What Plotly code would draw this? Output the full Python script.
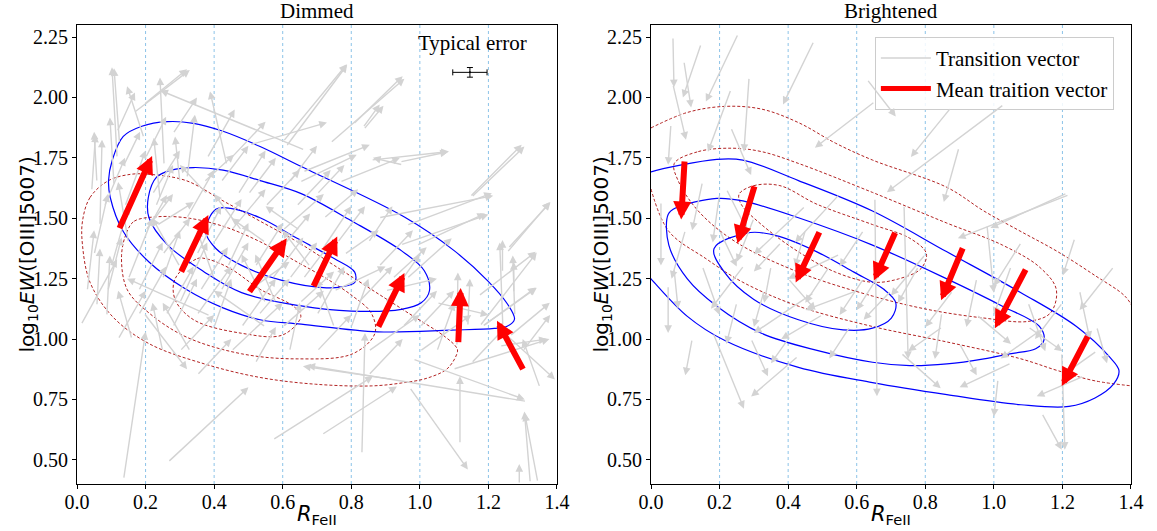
import plotly.graph_objects as go

# ---------------- data ----------------
x_ticks = [0.0, 0.2, 0.4, 0.6, 0.8, 1.0, 1.2, 1.4]
y_ticks = [0.50, 0.75, 1.00, 1.25, 1.50, 1.75, 2.00, 2.25]
grid_x = [0.2, 0.4, 0.6, 0.8, 1.0, 1.2]
panel_titles = ["Dimmed", "Brightened"]

# Dimmed: individual transition vectors (tail x0,y0 -> head x1,y1)
dim_x0 = [0.664, 0.124, 0.167, 0.61, 0.739, 0.836, 0.858, 1.15, 0.88, 1.257, 0.944, 1.171, 1.182, 1.241, 1.274,
          1.322, 1.311, 0.265, 0.136, 0.012, 0.571, 0.714, 0.831, 1.117, 1.29, 1.344, 1.097, 0.98, 1.242, 1.277,
          1.175, 1.254, 1.146, 0.962, 0.991, 0.942, 1.184, 1.262, 1.233, 1.224, 1.108, 0.962, 1.14, 0.601, 0.805,
          0.834, 0.504, 0.659, 0.65, 0.95, 0.767, 0.921, 0.117, 0.195, 0.254, 0.195, 0.117, 0.437, 0.058, 0.067,
          0.108, 0.321, 0.30, 0.37, 0.137, 0.242, 0.233, 0.213, 0.058, 0.087, 0.388, 0.195, 0.043,
          0.45, 0.52, 0.62, 0.55, 0.40, 0.70, 0.35, 0.65, 0.75, 0.60, 0.30, 0.45, 0.80, 0.85, 0.50, 0.25, 0.38,
          0.70, 0.55, 0.90, 0.95, 0.20, 0.15, 0.28, 0.42, 0.58, 0.72, 0.33, 0.62, 0.48, 0.25, 0.35, 0.85, 1.00,
          0.90, 1.05, 0.97, 0.03, 0.16,
          0.10, 0.18, 0.22, 0.28, 0.32, 0.40, 0.45, 0.50, 0.55, 0.60, 0.65, 0.68, 0.72, 0.78, 0.82, 0.88, 0.35,
          0.40, 0.25, 0.15, 0.08, 0.30, 0.48, 0.58, 0.75, 0.42, 0.62, 0.20, 0.12, 0.30, 0.52, 0.70, 0.85, 1.00,
          1.05, 1.15, 1.30, 1.35, 0.55,
          0.05, 0.14, 0.26, 0.36, 0.44, 0.53, 0.66, 0.76, 0.92, 0.23, 0.47, 0.57, 0.64, 0.38, 0.18, 0.09]
dim_y0 = [1.783, 1.811, 1.938, 1.797, 1.811, 1.867, 1.741, 1.586, 1.502, 1.375, 1.39, 1.178, 1.052, 1.277, 1.192,
          0.405, 0.742, 0.49, 0.42, 1.06, 0.583, 0.604, 0.525, 0.567, 0.40, 0.408, 0.875, 0.917, 1.054, 1.096,
          1.054, 1.358, 1.588, 1.471, 1.388, 1.733, 1.054, 1.012, 0.971, 1.054, 0.971, 1.25, 1.054, 1.817, 1.888,
          1.875, 1.804, 1.692, 1.65, 1.721, 1.65, 0.833, 1.75, 1.971, 1.721, 1.833, 1.858, 1.721, 1.65, 1.471,
          1.638, 1.667, 1.65, 1.65, 1.721, 1.583, 1.471, 1.471, 1.138, 1.096, 1.096, 1.108, 1.614,
          1.45, 1.30, 1.25, 1.15, 1.05, 1.10, 1.35, 1.45, 1.20, 1.05, 1.15, 0.95, 1.05, 1.40, 1.60, 1.25, 1.60,
          1.60, 1.05, 1.15, 1.05, 1.45, 1.25, 1.05, 1.20, 1.35, 1.38, 0.95, 0.95, 1.45, 0.95, 0.85, 0.95, 0.95,
          1.20, 1.15, 0.80, 1.20, 1.00,
          1.30, 1.20, 1.60, 1.85, 1.50, 1.40, 1.75, 1.20, 1.55, 1.45, 1.15, 1.30, 1.50, 1.35, 1.15, 1.30, 1.10,
          1.25, 1.35, 1.40, 1.55, 1.30, 1.05, 1.15, 1.05, 1.65, 1.65, 1.75, 1.00, 0.95, 0.90, 0.95, 0.85, 1.05,
          0.95, 0.90, 0.95, 0.80, 1.40,
          1.35, 1.55, 1.10, 1.20, 1.30, 1.10, 1.25, 1.40, 1.25, 1.55, 1.60, 1.25, 1.55, 1.75, 1.10, 1.20]
dim_x1 = [0.243, 0.108, 0.329, 0.788, 0.955, 0.894, 1.085, 1.305, 1.214, 1.381, 1.2, 1.338, 1.338, 1.241, 1.274,
          1.305, 0.672, 0.50, 0.20, 0.117, 0.863, 0.933, 0.84, 1.117, 1.29, 1.306, 1.378, 1.306, 1.233, 1.271,
          1.341, 1.379, 1.297, 1.21, 1.19, 1.082, 1.341, 1.379, 1.37, 1.394, 1.111, 1.093, 1.146, 0.787, 0.95,
          0.883, 0.729, 0.854, 0.816, 0.863, 0.942, 0.659, 0.102, 0.321, 0.242, 0.146, 0.169, 0.388, 0.05, 0.073,
          0.096, 0.344, 0.286, 0.458, 0.184, 0.224, 0.341, 0.262, 0.067, 0.096, 0.146, 0.321, 0.054,
          0.55, 0.60, 0.70, 0.48, 0.45, 0.78, 0.42, 0.55, 0.90, 0.72, 0.38, 0.60, 0.85, 0.92, 0.58, 0.30, 0.30,
          0.78, 0.40, 1.00, 1.05, 0.28, 0.22, 0.35, 0.50, 0.68, 0.80, 0.25, 0.65, 0.40, 0.22, 0.45, 1.00, 1.15,
          1.05, 1.20, 1.14, 0.05, 0.12,
          0.15, 0.25, 0.30, 0.35, 0.40, 0.48, 0.55, 0.62, 0.65, 0.72, 0.75, 0.60, 0.82, 0.88, 0.92, 0.98, 0.45,
          0.35, 0.33, 0.12, 0.14, 0.22, 0.58, 0.52, 0.70, 0.50, 0.70, 0.26, 0.20, 0.40, 0.58, 0.80, 0.95, 1.10,
          1.10, 1.25, 1.38, 1.30, 0.45,
          0.09, 0.20, 0.34, 0.44, 0.50, 0.62, 0.74, 0.84, 1.02, 0.28, 0.55, 0.66, 0.74, 0.46, 0.26, 0.13]
dim_y1 = [2.029, 2.121, 2.114, 2.135, 2.078, 1.966, 1.776, 1.797, 1.593, 1.566, 1.516, 1.361, 1.213, 1.41, 1.319,
          0.70, 0.89, 0.80, 1.03, 1.33, 0.846, 0.804, 1.025, 0.846, 0.483, 0.692, 1.0, 0.75, 1.40, 1.346,
          1.358, 1.567, 1.804, 1.604, 1.52, 1.775, 1.212, 1.15, 1.0, 0.833, 1.275, 1.417, 1.25, 2.138, 2.088,
          1.971, 1.896, 1.804, 1.763, 1.75, 1.75, 0.887, 2.125, 2.117, 2.083, 2.046, 2.021, 2.025, 1.858, 1.825,
          1.917, 1.929, 1.838, 1.763, 1.858, 1.833, 1.567, 1.596, 1.375, 1.346, 1.25, 0.875, 1.846,
          1.62, 1.48, 1.40, 1.35, 1.25, 1.30, 1.55, 1.55, 1.30, 1.20, 1.40, 1.15, 1.25, 1.55, 1.75, 1.45, 1.72,
          1.72, 1.20, 1.35, 1.20, 1.60, 1.50, 1.25, 1.40, 1.52, 1.55, 1.15, 1.15, 1.60, 1.15, 1.00, 1.10, 1.10,
          1.25, 1.10, 0.46, 1.45, 1.20,
          1.55, 1.40, 1.78, 2.00, 1.70, 1.58, 1.90, 1.32, 1.70, 1.60, 1.28, 1.45, 1.62, 1.45, 1.30, 1.45, 1.30,
          1.45, 1.50, 1.65, 1.75, 1.50, 1.25, 1.35, 1.25, 1.80, 1.80, 1.92, 1.20, 1.10, 1.05, 1.10, 1.00, 1.20,
          1.15, 1.05, 1.10, 1.00, 1.50,
          1.60, 1.78, 1.30, 1.38, 1.48, 1.25, 1.40, 1.55, 1.38, 1.72, 1.78, 1.42, 1.70, 1.95, 1.30, 1.42]

# Dimmed: mean transition vectors
dim_mean_x0 = [0.122, 0.302, 0.500, 0.688, 0.877, 1.112, 1.303]
dim_mean_y0 = [1.453, 1.273, 1.190, 1.213, 1.045, 0.981, 0.869]
dim_mean_x1 = [0.219, 0.383, 0.612, 0.759, 0.955, 1.119, 1.225]
dim_mean_y1 = [1.758, 1.513, 1.417, 1.424, 1.273, 1.211, 1.076]

# Brightened: individual transition vectors
bri_x0 = [0.064, 0.146, 0.096, 0.064, 0.254, 0.475, 0.286, 0.233, 0.233, 0.058, 0.029, 0.067, 0.05, 0.181, 0.429,
          0.292, 0.271, 0.475, 0.63, 0.875, 1.029, 0.653, 0.898, 0.738, 0.653, 0.848, 0.729, 1.213, 1.236, 1.198,
          1.14, 1.262, 0.98, 1.012, 1.219,
          0.55, 0.60, 0.50, 0.35, 0.45, 0.40, 0.58, 0.95, 1.05, 1.10, 0.85, 1.15, 1.25, 1.30, 1.30, 0.90, 1.05,
          0.15, 0.20, 0.10, 0.45, 0.22, 0.33, 0.12, 0.68, 0.80, 1.08, 1.35, 0.55,
          0.20, 0.30, 0.38, 0.52, 0.62, 0.70, 0.78, 0.88, 0.62, 0.40, 0.15, 0.25, 0.95, 1.10, 1.20]
bri_y0 = [2.25, 2.221, 2.15, 2.054, 2.263, 2.233, 2.083, 2.033, 1.875, 1.888, 1.567, 1.292, 1.221, 1.025, 0.929,
          1.0, 1.304, 1.192, 2.075, 1.958, 1.971, 1.983, 1.792, 1.554, 1.583, 1.108, 0.942, 1.604, 1.417, 0.942,
          0.692, 0.846, 1.471, 0.833, 1.597,
          1.35, 1.20, 1.10, 1.30, 1.45, 1.00, 1.05, 1.25, 1.30, 1.15, 1.05, 1.05, 1.20, 1.05, 0.95, 0.98, 0.90,
          1.65, 1.45, 1.45, 1.55, 1.62, 1.20, 1.00, 1.30, 1.35, 1.40, 1.30, 1.60,
          1.60, 1.50, 1.40, 1.30, 1.25, 1.20, 1.30, 1.20, 1.45, 1.25, 1.30, 1.15, 1.10, 1.05, 1.15]
bri_x1 = [0.067, 0.093, 0.117, 0.102, 0.16, 0.385, 0.271, 0.166, 0.292, 0.05, 0.029, 0.079, 0.05, 0.271, 0.292,
          0.341, 0.175, 0.30, 0.714, 0.758, 0.688, 0.478, 0.854, 0.75, 0.659, 0.828, 0.845, 0.99, 1.201, 1.207,
          1.198, 1.125, 1.0, 1.0, 0.895,
          0.40, 0.45, 0.38, 0.33, 0.42, 0.35, 0.52, 0.92, 1.00, 1.15, 0.75, 1.02, 1.28, 1.33, 1.20, 0.95, 0.90,
          0.12, 0.25, 0.06, 0.30, 0.28, 0.30, 0.10, 0.60, 0.70, 1.00, 1.25, 0.42,
          0.18, 0.25, 0.30, 0.45, 0.55, 0.62, 0.72, 0.80, 0.55, 0.48, 0.20, 0.22, 1.05, 1.20, 1.12]
bri_y1 = [2.042, 2.0, 1.958, 1.825, 1.983, 1.971, 1.775, 1.775, 1.679, 1.721, 1.304, 1.125, 1.025, 0.712, 0.762,
          0.846, 1.125, 1.025, 1.921, 1.754, 1.608, 1.792, 1.567, 0.917, 0.763, 0.917, 0.796, 1.46, 1.263, 0.542,
          0.542, 0.763, 1.192, 0.679, 1.417,
          1.25, 1.12, 1.00, 1.15, 1.30, 0.90, 0.92, 1.05, 1.10, 0.95, 0.95, 0.92, 1.00, 0.90, 0.85, 0.85, 0.80,
          1.45, 1.30, 1.25, 1.35, 1.45, 1.05, 0.85, 1.12, 1.18, 1.22, 1.12, 1.40,
          1.40, 1.32, 1.28, 1.15, 1.10, 1.08, 1.15, 1.05, 1.30, 1.12, 1.10, 0.98, 0.98, 0.95, 1.00]

# Brightened: mean transition vectors
bri_mean_x0 = [0.098, 0.303, 0.493, 0.714, 0.911, 1.095, 1.276]
bri_mean_y0 = [1.741, 1.638, 1.448, 1.446, 1.382, 1.294, 1.017]
bri_mean_x1 = [0.088, 0.252, 0.422, 0.650, 0.846, 1.003, 1.198]
bri_mean_y1 = [1.495, 1.396, 1.234, 1.242, 1.161, 1.045, 0.806]

# Density contours
dim_blue_outer_x = [0.092, 0.103, 0.135, 0.189, 0.264, 0.34, 0.426, 0.534, 0.654, 0.955, 1.10, 1.198, 1.256, 1.276,
                    1.256, 1.217, 1.091, 0.878, 0.654, 0.534, 0.426, 0.318, 0.21, 0.135, 0.097, 0.092]
dim_blue_outer_y = [1.656, 1.741, 1.839, 1.881, 1.90, 1.893, 1.86, 1.797, 1.714, 1.505, 1.366, 1.241, 1.144, 1.082,
                    1.054, 1.044, 1.037, 1.03, 1.062, 1.08, 1.129, 1.206, 1.319, 1.445, 1.586, 1.656]
dim_blue_mid_x = [0.208, 0.232, 0.275, 0.34, 0.426, 0.534, 0.654, 0.80, 0.946, 1.013, 1.028, 1.004, 0.946, 0.80,
                  0.654, 0.48, 0.372, 0.264, 0.21, 0.208]
dim_blue_mid_y = [1.586, 1.67, 1.699, 1.71, 1.699, 1.656, 1.602, 1.49, 1.366, 1.283, 1.20, 1.15, 1.123, 1.116,
                  1.137, 1.192, 1.277, 1.39, 1.502, 1.586]
dim_blue_in_x = [0.375, 0.405, 0.448, 0.534, 0.642, 0.75, 0.81, 0.81, 0.772, 0.718, 0.60, 0.48, 0.405, 0.375]
dim_blue_in_y = [1.445, 1.537, 1.541, 1.502, 1.417, 1.333, 1.277, 1.234, 1.216, 1.213, 1.242, 1.305, 1.375, 1.445]
dim_red_outer_x = [0.016, 0.038, 0.092, 0.157, 0.21, 0.318, 0.426, 0.534, 0.642, 0.75, 0.858, 0.966, 1.074, 1.106,
                   1.11, 1.082, 1.023, 0.946, 0.858, 0.696, 0.534, 0.372, 0.21, 0.103, 0.038, 0.016, 0.016]
dim_red_outer_y = [1.488, 1.586, 1.656, 1.682, 1.682, 1.656, 1.572, 1.488, 1.403, 1.305, 1.206, 1.108, 1.009, 0.967,
                   0.95, 0.88, 0.839, 0.818, 0.806, 0.813, 0.841, 0.897, 0.981, 1.094, 1.235, 1.389, 1.488]
dim_red_mid_x = [0.146, 0.167, 0.232, 0.318, 0.426, 0.534, 0.642, 0.729, 0.804, 0.858, 0.869, 0.804, 0.642, 0.48,
                 0.318, 0.21, 0.146, 0.13, 0.146]
dim_red_mid_y = [1.445, 1.488, 1.506, 1.502, 1.467, 1.403, 1.319, 1.249, 1.178, 1.108, 1.024, 0.939, 0.918, 0.939,
                 1.009, 1.108, 1.206, 1.347, 1.445]
dim_red_in_x = [0.286, 0.351, 0.383, 0.448, 0.534, 0.631, 0.653, 0.60, 0.48, 0.34, 0.286, 0.286]
dim_red_in_y = [1.249, 1.333, 1.33, 1.291, 1.206, 1.136, 1.094, 1.017, 1.024, 1.08, 1.164, 1.249]

bri_blue_outer_x = [-0.02, 0.0, 0.192, 0.268, 0.43, 0.646, 0.863, 1.079, 1.241, 1.338, 1.365, 1.349, 1.295, 1.219,
                    1.079, 0.863, 0.646, 0.43, 0.214, 0.106, 0.0, -0.02]
bri_blue_outer_y = [1.68, 1.692, 1.744, 1.741, 1.656, 1.53, 1.361, 1.192, 1.052, 0.925, 0.869, 0.813, 0.756, 0.721,
                    0.728, 0.77, 0.82, 0.883, 0.995, 1.094, 1.249, 1.28]
bri_blue_mid_x = [0.05, 0.074, 0.192, 0.268, 0.43, 0.646, 0.863, 1.025, 1.133, 1.146, 1.122, 1.046, 0.971, 0.863,
                  0.755, 0.646, 0.484, 0.322, 0.192, 0.106, 0.052, 0.05]
bri_blue_mid_y = [1.516, 1.544, 1.582, 1.572, 1.502, 1.389, 1.249, 1.136, 1.052, 0.995, 0.96, 0.939, 0.918, 0.897,
                  0.89, 0.904, 0.953, 1.024, 1.136, 1.249, 1.389, 1.516]
bri_blue_in_x = [0.184, 0.29, 0.376, 0.484, 0.592, 0.679, 0.714, 0.701, 0.646, 0.56, 0.43, 0.30, 0.214, 0.184]
bri_blue_in_y = [1.375, 1.441, 1.424, 1.361, 1.277, 1.206, 1.15, 1.087, 1.045, 1.038, 1.08, 1.164, 1.277, 1.375]
bri_red_outer_x = [0.0, 0.106, 0.214, 0.322, 0.43, 0.538, 0.646, 0.863, 0.971, 1.079, 1.187, 1.295, 1.382, 1.41]
bri_red_outer_y = [1.874, 1.938, 1.963, 1.952, 1.896, 1.811, 1.741, 1.628, 1.53, 1.445, 1.361, 1.263, 1.178, 1.12]
bri_red_lower_x = [0.0, 0.052, 0.16, 0.268, 0.43, 0.646, 0.863, 1.079, 1.187, 1.295, 1.41]
bri_red_lower_y = [1.621, 1.446, 1.333, 1.235, 1.136, 1.052, 0.988, 0.918, 0.869, 0.827, 0.805]
bri_red_mid_x = [0.068, 0.138, 0.236, 0.322, 0.43, 0.646, 0.863, 1.025, 1.133, 1.182, 1.165, 1.10, 0.971, 0.809,
                 0.646, 0.43, 0.246, 0.138, 0.079, 0.068]
bri_red_mid_y = [1.727, 1.776, 1.79, 1.776, 1.727, 1.607, 1.48, 1.389, 1.298, 1.206, 1.108, 1.073, 1.087, 1.122,
                 1.178, 1.277, 1.403, 1.53, 1.656, 1.727]
bri_red_in_x = [0.257, 0.30, 0.376, 0.484, 0.646, 0.755, 0.803, 0.787, 0.722, 0.646, 0.538, 0.43, 0.322, 0.263, 0.257]
bri_red_in_y = [1.60, 1.635, 1.635, 1.558, 1.474, 1.417, 1.354, 1.291, 1.249, 1.235, 1.277, 1.361, 1.474, 1.558, 1.60]

err_x, err_y = [1.146], [2.104]
err_dx, err_dy = [0.05], [0.02]

# ---------------- figure ----------------
SERIF = "Liberation Serif, Times New Roman, serif"
SANS = "DejaVu Sans, sans-serif"
GRAY = "#d3d3d3"
BLUE = "#0000ff"
DRED = "#b22222"

fig = go.Figure()
dom_l = [0.0, 0.4554]
dom_r = [0.5446, 1.0]

panels = [
    ("x", "y", [(dim_blue_outer_x, dim_blue_outer_y), (dim_blue_mid_x, dim_blue_mid_y), (dim_blue_in_x, dim_blue_in_y)],
     [(dim_red_outer_x, dim_red_outer_y), (dim_red_mid_x, dim_red_mid_y), (dim_red_in_x, dim_red_in_y)],
     (dim_x0, dim_y0, dim_x1, dim_y1), (dim_mean_x0, dim_mean_y0, dim_mean_x1, dim_mean_y1)),
    ("x2", "y2", [(bri_blue_outer_x, bri_blue_outer_y), (bri_blue_mid_x, bri_blue_mid_y), (bri_blue_in_x, bri_blue_in_y)],
     [(bri_red_outer_x, bri_red_outer_y), (bri_red_lower_x, bri_red_lower_y), (bri_red_mid_x, bri_red_mid_y),
      (bri_red_in_x, bri_red_in_y)],
     (bri_x0, bri_y0, bri_x1, bri_y1), (bri_mean_x0, bri_mean_y0, bri_mean_x1, bri_mean_y1)),
]

annotations = []
shapes = []
for xa, ya, blues, reds, gv, mv in panels:
    for cx, cy in reds:
        fig.add_trace(go.Scatter(x=cx, y=cy, mode="lines", xaxis=xa, yaxis=ya, showlegend=False, hoverinfo="skip",
                                 line=dict(color=DRED, width=1, dash="3px,2px", shape="spline", smoothing=1.0)))
    for cx, cy in blues:
        fig.add_trace(go.Scatter(x=cx, y=cy, mode="lines", xaxis=xa, yaxis=ya, showlegend=False, hoverinfo="skip",
                                 line=dict(color=BLUE, width=1.2, shape="spline", smoothing=1.0)))
    for gx in grid_x:
        shapes.append(dict(type="line", xref=xa, yref=ya + " domain", x0=gx, x1=gx, y0=0, y1=1, layer="below",
                           line=dict(color="#8cc3e8", width=1, dash="dot")))
    for a, b, c, d in zip(*gv):
        annotations.append(dict(xref=xa, yref=ya, axref=xa, ayref=ya, x=c, y=d, ax=a, ay=b, text="",
                                showarrow=True, arrowhead=2, arrowsize=1.1, arrowwidth=1.4, arrowcolor=GRAY,
                                standoff=0, startstandoff=0))
    for a, b, c, d in zip(*mv):
        annotations.append(dict(xref=xa, yref=ya, axref=xa, ayref=ya, x=c, y=d, ax=a, ay=b, text="",
                                showarrow=True, arrowhead=2, arrowsize=0.6, arrowwidth=6, arrowcolor="#ff0000",
                                standoff=0, startstandoff=0))

# typical error
fig.add_trace(go.Scatter(x=err_x, y=err_y, mode="markers", xaxis="x", yaxis="y", showlegend=False,
                         marker=dict(size=2, color="black"),
                         error_x=dict(type="data", array=err_dx, color="black", thickness=1, width=3),
                         error_y=dict(type="data", array=err_dy, color="black", thickness=1, width=3)))
annotations.append(dict(xref="x", yref="y", x=1.155, y=2.225, text="Typical error", showarrow=False,
                        font=dict(family=SERIF, size=21, color="black")))

# legend entries
fig.add_trace(go.Scatter(x=[None], y=[None], mode="lines", xaxis="x2", yaxis="y2", name="Transition vector",
                         line=dict(color=GRAY, width=1.5)))
fig.add_trace(go.Scatter(x=[None], y=[None], mode="lines", xaxis="x2", yaxis="y2", name="Mean traition vector",
                         line=dict(color="#ff0000", width=5)))

for i, (xa, ya) in enumerate([("x", "y"), ("x2", "y2")]):
    annotations.append(dict(xref=xa + " domain", yref=ya + " domain", x=0.5, y=1.0, yanchor="bottom", yshift=0,
                            text=panel_titles[i], showarrow=False, font=dict(family=SERIF, size=21, color="black")))
    annotations.append(dict(xref=xa + " domain", yref=ya + " domain", x=0.5, y=0.0, yanchor="middle", yshift=-31,
                            text="<i>R</i><sub>FeII</sub>", showarrow=False,
                            font=dict(family=SANS, size=21, color="black")))
    annotations.append(dict(xref=xa + " domain", yref=ya + " domain", x=0.0, y=0.5, xanchor="center",
                            yanchor="middle", xshift=-50, textangle=-90,
                            text="log<sub>10</sub><i>EW</i>([OIII]5007)", showarrow=False,
                            font=dict(family=SANS, size=20, color="black")))

axis_common = dict(showline=True, linecolor="black", linewidth=1, mirror=True, ticks="outside", ticklen=4,
                   tickcolor="black", showgrid=False, zeroline=False, automargin=False,
                   tickfont=dict(family=SERIF, size=20, color="black"))
xt = dict(axis_common, range=[0, 1.4], tickvals=x_ticks, ticktext=[f"{v:.1f}" for v in x_ticks],
          ticklabelstandoff=-4)
yt = dict(axis_common, range=[0.4, 2.3], tickvals=y_ticks, ticktext=[f"{v:.2f}" for v in y_ticks])

fig.update_layout(
    width=1157, height=531,
    margin=dict(l=77, r=26, t=25, b=47, autoexpand=False),
    paper_bgcolor="white", plot_bgcolor="white",
    xaxis=dict(xt, domain=dom_l, anchor="y"),
    yaxis=dict(yt, domain=[0, 1], anchor="x"),
    xaxis2=dict(xt, domain=dom_r, anchor="y2"),
    yaxis2=dict(yt, domain=[0, 1], anchor="x2"),
    annotations=annotations,
    shapes=shapes,
    showlegend=True,
    legend=dict(x=0.757, y=0.974, xanchor="left", yanchor="top", bgcolor="rgba(255,255,255,0.85)",
                bordercolor="#cccccc", borderwidth=1, font=dict(family=SERIF, size=21, color="black"),
                itemwidth=50, tracegroupgap=4),
)

fig.write_html("out.html", config={"displayModeBar": False},
               post_script="document.documentElement.style.margin='0';document.body.style.margin='0';"
                           "document.body.style.overflow='hidden';")
